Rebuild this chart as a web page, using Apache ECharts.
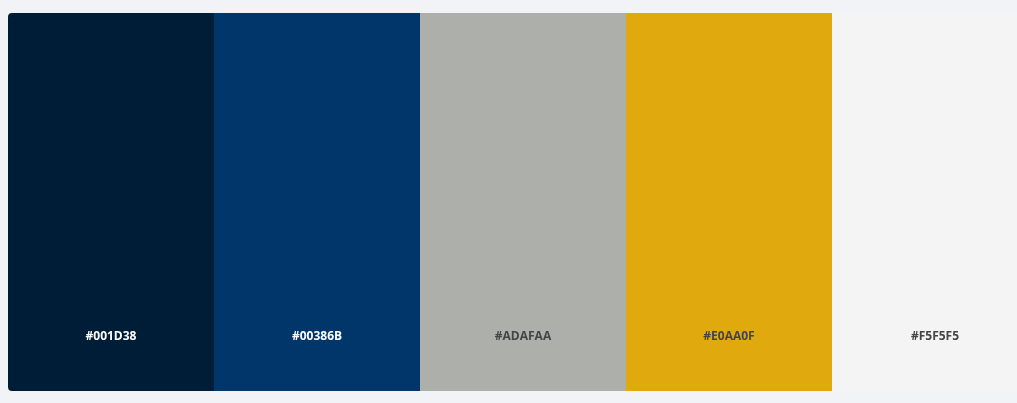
<!DOCTYPE html>
<html>
<head>
<meta charset="utf-8">
<script src="https://cdn.jsdelivr.net/npm/echarts@6/dist/echarts.min.js"></script>
<style>
  html, body { margin: 0; padding: 0; background: #f1f3f6; overflow: hidden; }
  /* the last swatch runs past the right edge of the window */
  #chart { width: 1038px; height: 403px; }
</style>
</head>
<body>
<div id="chart"></div>
<script>
// palette swatches, left to right
const swatchCodes = ['#001D38', '#00386B', '#ADAFAA', '#E0AA0F', '#F5F5F5']
const swatchFills = ['#001d38', '#00366a', '#adafaa', '#e0aa0f', '#f4f4f4']
const swatchValues = [1, 1, 1, 1, 1]
// which labels sit on a dark swatch
const darkSwatch = [true, true, false, false, false]

const chart = echarts.init(document.getElementById('chart'))

const barData = swatchValues.map((v, i) => ({
  value: v,
  itemStyle: {
    color: swatchFills[i],
    borderRadius: i === 0 ? [4, 0, 0, 4] : 0
  },
  label: {
    color: darkSwatch[i] ? '#ffffff' : '#454545'
  }
}))

chart.setOption({
  backgroundColor: '#f1f3f6',
  animation: false,
  grid: { left: 8, right: 0, top: 13, bottom: 12, outerBoundsMode: 'none' },
  xAxis: {
    type: 'category',
    data: swatchCodes,
    show: false
  },
  yAxis: {
    type: 'value',
    min: 0,
    max: 1,
    show: false
  },
  series: [{
    type: 'bar',
    data: barData,
    barWidth: '100%',
    barCategoryGap: 0,
    label: {
      show: true,
      position: 'insideBottom',
      distance: 48,
      formatter: p => swatchCodes[p.dataIndex],
      fontFamily: 'Open Sans',
      fontWeight: 'bold',
      fontSize: 12
    }
  }]
})
</script>
</body>
</html>
